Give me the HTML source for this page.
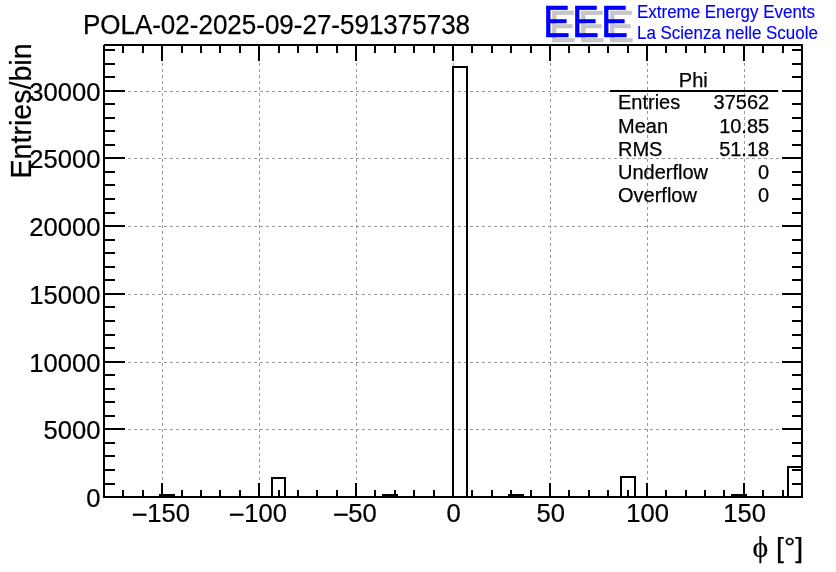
<!DOCTYPE html>
<html lang="it"><head><meta charset="utf-8"><title>POLA-02-2025-09-27-591375738</title>
<style>html,body{margin:0;padding:0;background:#fff}svg{display:block}text{font-family:"Liberation Sans",sans-serif;fill:#000;stroke:#000;stroke-width:.25px}.eee{font-size:43.5px}.ey{fill:#0000ff;stroke:#0000ff;stroke-width:.15px}.ph{font-family:"Liberation Serif",serif}</style>
</head><body>
<svg width="836" height="572" viewBox="0 0 836 572">
<rect width="836" height="572" fill="#fff"/>
<path d="M162.5 498V45M259.5 498V45M356.5 498V45M453.5 498V45M550.5 498V45M647.5 498V45M744.5 498V45M104 429.5H802M104 362.5H802M104 294.5H802M104 226.5H802M104 158.5H802M104 91.5H802" fill="none" stroke="#999" stroke-width="1" stroke-dasharray="3 3" shape-rendering="crispEdges"/>
<path d="M104 497V497H118V497H132V497H146V497H160V495H174V497H188V497H202V497H216V497H230V497H244V497H258V497H272V478H285V497H299V497H313V497H327V497H341V497H355V497H369V497H383V495H397V497H411V497H425V497H439V497H453V67H467V497H481V497H495V497H509V495H523V497H537V497H551V497H565V497H579V497H593V497H607V497H621V477H635V497H648V497H662V497H676V497H690V497H704V497H718V497H732V495H746V497H760V497H774V497H788V467H802V497" fill="none" stroke="#000" stroke-width="2" stroke-linejoin="miter" shape-rendering="crispEdges"/>
<path d="M123 497v-7M123 45v8M143 497v-7M143 45v8M162 497v-14M162 45v16M182 497v-7M182 45v8M201 497v-7M201 45v8M220 497v-7M220 45v8M240 497v-7M240 45v8M259 497v-14M259 45v16M279 497v-7M279 45v8M298 497v-7M298 45v8M317 497v-7M317 45v8M337 497v-7M337 45v8M356 497v-14M356 45v16M375 497v-7M375 45v8M395 497v-7M395 45v8M414 497v-7M414 45v8M434 497v-7M434 45v8M453 497v-14M453 45v16M472 497v-7M472 45v8M492 497v-7M492 45v8M511 497v-7M511 45v8M531 497v-7M531 45v8M550 497v-14M550 45v16M569 497v-7M569 45v8M589 497v-7M589 45v8M608 497v-7M608 45v8M628 497v-7M628 45v8M647 497v-14M647 45v16M666 497v-7M666 45v8M686 497v-7M686 45v8M705 497v-7M705 45v8M724 497v-7M724 45v8M744 497v-14M744 45v16M763 497v-7M763 45v8M783 497v-7M783 45v8M104 484h11M802 484h-10M104 470h11M802 470h-10M104 456h11M802 456h-10M104 443h11M802 443h-10M104 429h21M802 429h-20M104 416h11M802 416h-10M104 402h11M802 402h-10M104 389h11M802 389h-10M104 375h11M802 375h-10M104 362h21M802 362h-20M104 348h11M802 348h-10M104 335h11M802 335h-10M104 321h11M802 321h-10M104 307h11M802 307h-10M104 294h21M802 294h-20M104 280h11M802 280h-10M104 267h11M802 267h-10M104 253h11M802 253h-10M104 240h11M802 240h-10M104 226h21M802 226h-20M104 213h11M802 213h-10M104 199h11M802 199h-10M104 185h11M802 185h-10M104 172h11M802 172h-10M104 158h21M802 158h-20M104 145h11M802 145h-10M104 131h11M802 131h-10M104 118h11M802 118h-10M104 104h11M802 104h-10M104 91h21M802 91h-20M104 77h11M802 77h-10M104 64h11M802 64h-10M104 50h11M802 50h-10" fill="none" stroke="#000" stroke-width="2" shape-rendering="crispEdges"/>
<rect x="104" y="45" width="698" height="452" fill="none" stroke="#000" stroke-width="2" shape-rendering="crispEdges"/>
<rect x="103" y="44" width="1" height="1" fill="#fff" shape-rendering="crispEdges"/>
<text transform="translate(160.9 522.45) scale(0.9662 1)" font-size="26.5" text-anchor="middle"><tspan font-size="28.35" dy="1.6">−</tspan><tspan dy="-1.6" dx="-0.6">150</tspan></text>
<text transform="translate(257.9 522.45) scale(0.9662 1)" font-size="26.5" text-anchor="middle"><tspan font-size="28.35" dy="1.6">−</tspan><tspan dy="-1.6" dx="-0.6">100</tspan></text>
<text transform="translate(354.9 522.45) scale(0.9662 1)" font-size="26.5" text-anchor="middle"><tspan font-size="28.35" dy="1.6">−</tspan><tspan dy="-1.6" dx="-0.6">50</tspan></text>
<text transform="translate(453.7 522.45) scale(0.9662 1)" font-size="26.5" text-anchor="middle">0</text>
<text transform="translate(550.7 522.45) scale(0.9662 1)" font-size="26.5" text-anchor="middle">50</text>
<text transform="translate(647.7 522.45) scale(0.9662 1)" font-size="26.5" text-anchor="middle">100</text>
<text transform="translate(744.7 522.45) scale(0.9662 1)" font-size="26.5" text-anchor="middle">150</text>
<text transform="translate(100.4 507.3) scale(0.9662 1)" font-size="26.5" text-anchor="end">0</text>
<text transform="translate(100.4 439.3) scale(0.9662 1)" font-size="26.5" text-anchor="end">5000</text>
<text transform="translate(100.4 372.3) scale(0.9662 1)" font-size="26.5" text-anchor="end">10000</text>
<text transform="translate(100.4 304.3) scale(0.9662 1)" font-size="26.5" text-anchor="end">15000</text>
<text transform="translate(100.4 236.3) scale(0.9662 1)" font-size="26.5" text-anchor="end">20000</text>
<text transform="translate(100.4 168.3) scale(0.9662 1)" font-size="26.5" text-anchor="end">25000</text>
<text transform="translate(100.4 101.3) scale(0.9662 1)" font-size="26.5" text-anchor="end">30000</text>
<text transform="translate(82.9 34.1) scale(0.9709 1)" font-size="26.78">POLA-02-2025-09-27-591375738</text>
<text transform="translate(30.8 43.4) rotate(-90)" text-anchor="end" font-size="28.6">Entries/bin</text>
<text x="803.2" y="556.7" text-anchor="end" font-size="28.4"><tspan class="ph" font-size="29.8">ϕ</tspan> [°]</text>
<text class="eee" transform="translate(6 4.9) scale(0.93 1)" x="583.92 615 646.18" y="36.8" style="fill:#c6c6c6;stroke:#c6c6c6;stroke-width:.6px">EEE</text>
<text class="eee" transform="scale(0.93 1)" x="583.92 615 646.18" y="36.8" style="fill:#0000ff;stroke:#0000ff;stroke-width:.6px">EEE</text>
<text class="ey" transform="translate(637 17.7) scale(0.9524 1)" font-size="17.8">Extreme Energy Events</text>
<text class="ey" transform="translate(637 38.5) scale(0.9524 1)" font-size="17.8">La Scienza nelle Scuole</text>
<path d="M610 91H778" stroke="#000" stroke-width="2" fill="none" shape-rendering="crispEdges"/>
<text x="693.3" y="87.4" font-size="20" text-anchor="middle">Phi</text>
<text x="618" y="109.4" font-size="20">Entries</text>
<text x="769.2" y="109.4" font-size="20" text-anchor="end">37562</text>
<text x="618" y="132.9" font-size="20">Mean</text>
<text x="769.2" y="132.9" font-size="20" text-anchor="end">10.85</text>
<text x="618" y="155.7" font-size="20">RMS</text>
<text x="769.2" y="155.7" font-size="20" text-anchor="end">51.18</text>
<text x="618" y="178.8" font-size="20">Underflow</text>
<text x="769.2" y="178.8" font-size="20" text-anchor="end">0</text>
<text x="618" y="201.8" font-size="20">Overflow</text>
<text x="769.2" y="201.8" font-size="20" text-anchor="end">0</text>
</svg></body></html>
